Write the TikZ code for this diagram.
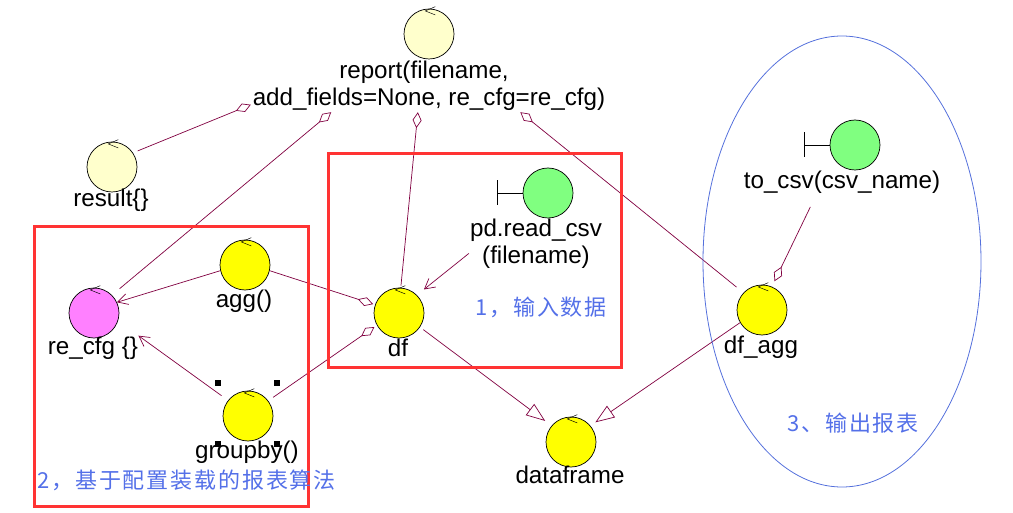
\documentclass[tikz,border=0pt]{standalone}
\usepackage{fontspec}
\setmainfont{Liberation Sans}
\newfontfamily\cjkfont[LetterSpace=8.5]{Noto Sans CJK SC}
\usepackage{tikz}
\usetikzlibrary{arrows.meta,shapes.geometric}
\definecolor{linkred}{RGB}{128,0,64}
\definecolor{boxred}{RGB}{255,51,51}
\definecolor{noteblue}{RGB}{84,112,232}
\definecolor{ovalblue}{RGB}{84,112,220}
\definecolor{ballyellow}{RGB}{255,255,0}
\definecolor{ballcream}{RGB}{255,255,204}
\definecolor{ballpink}{RGB}{255,128,255}
\definecolor{ballgreen}{RGB}{128,255,128}
\tikzset{
  ball/.style={circle,draw=black,line width=0.7pt,minimum size=50pt,inner sep=0pt},
  txt/.style={inner sep=1pt,anchor=base,font=\fontsize{24.2}{27}\selectfont},
  note/.style={inner sep=0pt,anchor=west,text=noteblue,font=\fontsize{22}{26}\cjkfont},
  link/.style={draw=linkred,line width=0.7pt},
  has/.style={link,-{Diamond[open,length=16pt,width=9pt]}},
  goes/.style={link,-{Straight Barb[length=10pt,width=11pt]}},
  isa/.style={link,-{Triangle[open,length=19pt,width=14pt]}},
  redbox/.style={draw=boxred,line width=3pt},
  handle/.style={fill=black,inner sep=0pt,minimum size=6pt}
}
\newcommand{\lnode}{\node[txt]}
\newcommand{\ctick}[1]{\draw[line width=0.5pt] ([xshift=6.3pt,yshift=2pt]#1.north) -- ++(-10,4.3) -- ++(10,4);}
\newcommand{\tbar}[1]{\draw[line width=0.7pt] (#1.west) -- ++(-25,0) ++(0,-12.5) -- ++(0,25);}
\begin{document}
\begin{tikzpicture}[x=1pt,y=-1pt]
      \useasboundingbox (0,0) rectangle (1013,513);
      \node[ball,fill=ballcream] (report) at (429,34) {}; % report
      \node[ball,fill=ballcream] (result) at (112,167) {}; % result
      \node[ball,fill=ballyellow] (agg) at (245,265) {};
      \node[ball,fill=ballpink] (recfg) at (94,313) {}; % config
      \node[ball,fill=ballyellow] (groupby) at (248,416) {};
      \node[ball,fill=ballyellow] (df) at (399,313) {};
      \node[ball,fill=ballyellow] (dfagg) at (762,310) {};
      \node[ball,fill=ballyellow] (dataframe) at (571,442) {};
      \node[ball,fill=ballgreen] (readcsv) at (548,193) {}; % input
      \node[ball,fill=ballgreen] (tocsv) at (855,145) {}; % output
      \foreach \n in {report,result,agg,recfg,groupby,df,dfagg,dataframe} {\ctick{\n}}
      \tbar{readcsv}
      \tbar{tocsv}
      %%%% selection handles
      \node[handle] (h1) at (218,383) {};
      \node[handle] (h2) at (277,383) {};
      \node[handle] (h3) at (218,444) {};
      \node[handle] (h4) at (277,444) {};
      %%%% labels
      \node[txt,anchor=center,align=center,minimum width=356pt,minimum height=52pt,inner sep=0pt] (reportlab) at (429,86) {report(filename,\hspace*{10pt}\\add\_fields=None, re\_cfg=re\_cfg)};
      \lnode (resultlab) at (111,207) {result\{\}};
      \lnode (agglab) at (244,308) {agg()};
      \lnode (recfglab) at (93,355) {re\_cfg \{\}};
      \lnode (groupbylab) at (247,458) {groupby()};
      \lnode (dflab) at (398,356) {df};
      \lnode (dfagglab) at (761,353) {df\_agg};
      \lnode (dataframelab) at (570,483) {dataframe};
      \node[txt,anchor=center,align=center] (readcsvlab) at (536,244) {pd.read\_csv\\(filename)};
      \lnode (tocsvlab) at (842,189) {to\_csv(csv\_name)};
      %%%% graph links
      \draw[has,shorten <=5pt] (result.34) -- (reportlab.186.1);
      \draw[has,shorten <=10pt] (recfg.45) -- (reportlab.195.3);
      \draw[has,shorten <=2pt] (df.86) -- (reportlab.247);
      \draw[has,shorten <=9pt] (dfagg.137) -- (reportlab.344.7);
      \draw[goes] (agg.193) -- (recfg.25);
      \draw[has,shorten >=2pt] (agg.347) -- (df.161);
      \draw[goes,shorten <=8pt,shorten >=-1pt] (groupby.142) -- (recfglab.north east);
      \draw[has,shorten <=6pt,shorten >=3pt] (groupby.37) -- (df.209);
      \draw[goes,shorten >=9pt] (readcsvlab.188) -- (df.45);
      \draw[isa,shorten <=4pt,shorten >=8pt] (df.-34) -- (dataframe.140);
      \draw[isa,shorten >=6pt] (dfagg.210) -- (dataframe.40);
      \draw[has,shorten <=13pt,shorten >=6pt] ([xshift=-26pt]tocsvlab.south) -- (dfagg.67);
      %%%% boxes and notes
      \node[redbox,minimum width=274pt,minimum height=279pt,inner sep=0pt] (algobox) at (171,366.5) {};
      \node[redbox,minimum width=293pt,minimum height=213pt,inner sep=0pt] (inputbox) at (474.5,260.5) {};
      \node[draw=ovalblue,line width=0.8pt,ellipse,minimum width=278pt,minimum height=451pt,inner sep=0pt] (outputoval) at (842,261.5) {};
      \node[note] (note1) at (475,307) {1，输入数据};
      \node[note] (note2) at (37,480) {2，基于配置装载的报表算法};
      \node[note] (note3) at (787,423) {3、输出报表};
\end{tikzpicture}
\end{document}
